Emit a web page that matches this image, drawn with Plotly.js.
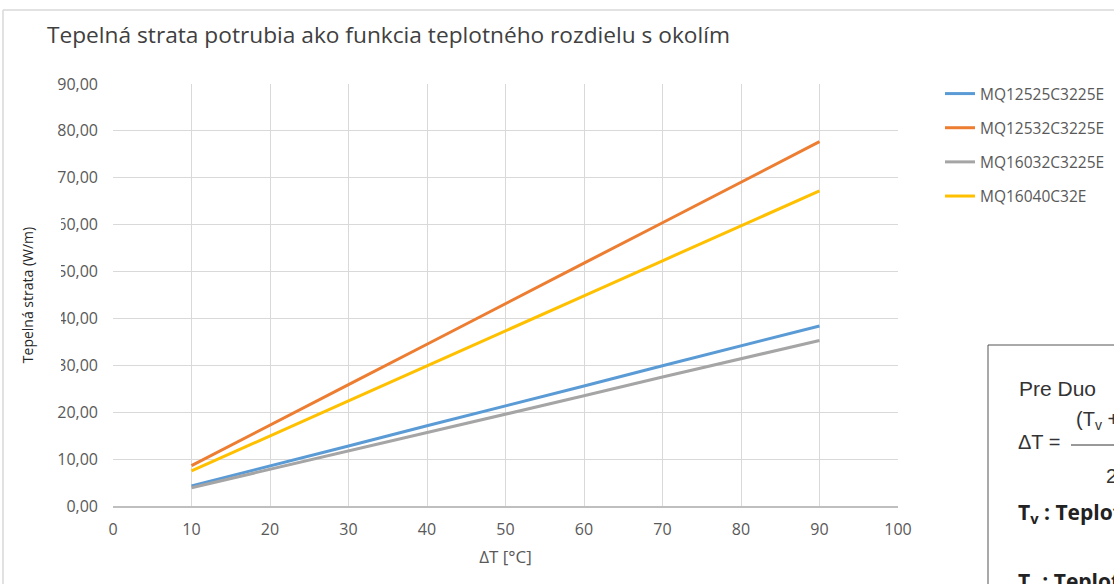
<!DOCTYPE html>
<html>
<head>
<meta charset="utf-8">
<script src="https://cdn.plot.ly/plotly-3.0.1.min.js"></script>
<style>html,body{margin:0;padding:0;background:#fff;}#chart{width:1114px;height:584px;}</style>
</head>
<body>
<div id="chart"></div>
<script>
// ---- data ----
const deltaT = [10, 20, 30, 40, 50, 60, 70, 80, 90];
const seriesNames = ["MQ12525C3225E", "MQ12532C3225E", "MQ16032C3225E", "MQ16040C32E"];
const mq12525 = [4.3, 8.5, 12.8, 17.1, 21.3, 25.6, 29.9, 34.1, 38.4];
const mq12532 = [8.6, 17.3, 25.9, 34.5, 43.2, 51.8, 60.4, 69.0, 77.7];
const mq16032 = [3.9, 7.8, 11.8, 15.7, 19.6, 23.5, 27.5, 31.4, 35.3];
const mq16040 = [7.5, 14.9, 22.4, 29.9, 37.3, 44.8, 52.3, 59.7, 67.2];
const seriesColors = ["#5B9BD5", "#ED7D31", "#A5A5A5", "#FFC000"];
const xTicks = [0, 10, 20, 30, 40, 50, 60, 70, 80, 90, 100];
const yTicks = [0, 10, 20, 30, 40, 50, 60, 70, 80, 90];

// ---- layout geometry (pixels) ----
const W = 1114, H = 584;
const L = 113, R = 898, T = 84, B = 506;
const PX = px => (px - L) / (R - L);
const PY = py => (B - py) / (B - T);

const FONT = "Open Sans, Noto Sans, DejaVu Sans, sans-serif";
const SANS = "Liberation Sans, Arial, sans-serif";
const TXT = "#595959";

const values = [mq12525, mq12532, mq16032, mq16040];
const traces = values.map((v, i) => ({
  type: "scatter",
  mode: "lines",
  x: deltaT,
  y: v,
  name: seriesNames[i],
  legendgroup: "g" + i,
  line: {color: seriesColors[i], width: 3}
}));

const layout = {
  width: W, height: H,
  margin: {l: L, r: W - R, t: T, b: H - B, pad: 0, autoexpand: false},
  paper_bgcolor: "#ffffff",
  plot_bgcolor: "#ffffff",
  separators: ", ",
  font: {family: FONT, size: 16, color: TXT},
  title: {
    text: "Tepelná strata potrubia ako funkcia teplotného rozdielu s okolím",
    font: {family: FONT, size: 22.7, color: "#404040"},
    x: 47 / W, xref: "container", xanchor: "left",
    y: 1 - 35 / H, yref: "container", yanchor: "middle"
  },
  xaxis: {
    range: [0, 100],
    tickvals: xTicks,
    ticks: "",
    showgrid: true, gridcolor: "#d9d9d9", gridwidth: 1,
    zeroline: false,
    showline: true, linecolor: "#bfbfbf", linewidth: 1.5,
    tickfont: {family: FONT, size: 16, color: TXT},
    ticklabelstandoff: 8,
    title: {text: "ΔT [°C]", font: {family: FONT, size: 17, color: TXT}, standoff: 12},
    fixedrange: true
  },
  yaxis: {
    range: [0, 90],
    tickvals: yTicks,
    tickformat: ".2f",
    ticks: "",
    showgrid: true, gridcolor: "#d9d9d9", gridwidth: 1,
    zeroline: false,
    showline: false,
    tickfont: {family: FONT, size: 16, color: TXT},
    ticklabelstandoff: 14,
    title: {text: "Tepelná strata (W/m)", font: {family: FONT, size: 14, color: "#262626"}, standoff: 20},
    fixedrange: true
  },
  showlegend: true,
  legend: {
    x: PX(940), xanchor: "left",
    y: PY(77), yanchor: "top",
    font: {family: FONT, size: 15.5, color: TXT},
    traceorder: "grouped",
    tracegroupgap: 11,
    bgcolor: "rgba(0,0,0,0)"
  },
  shapes: [
    // outer chart frame
    {type: "line", xref: "paper", yref: "paper", x0: PX(3), x1: PX(3), y0: PY(10), y1: PY(600), line: {color: "#d9d9d9", width: 1.5}},
    {type: "line", xref: "paper", yref: "paper", x0: PX(3), x1: PX(1120), y0: PY(10), y1: PY(10), line: {color: "#d9d9d9", width: 1.5}},
    // white patch where the axis-title box overlaps tick labels
    {type: "rect", xref: "paper", yref: "paper", x0: PX(16), x1: PX(61), y0: PY(203), y1: PY(377), line: {width: 0}, fillcolor: "#ffffff", layer: "above"},
    // side info box
    {type: "line", xref: "paper", yref: "paper", x0: PX(988), x1: PX(988), y0: PY(345), y1: PY(600), line: {color: "#555555", width: 1}},
    {type: "line", xref: "paper", yref: "paper", x0: PX(988), x1: PX(1120), y0: PY(345), y1: PY(345), line: {color: "#555555", width: 1}},
    // fraction bar
    {type: "line", xref: "paper", yref: "paper", x0: PX(1071), x1: PX(1120), y0: PY(445), y1: PY(445), line: {color: "#333333", width: 1}}
  ],
  annotations: [
    {xref: "paper", yref: "paper", x: PX(1017), y: PY(388), xanchor: "left", yanchor: "middle", showarrow: false,
     text: "Pre Duo", font: {family: SANS, size: 21, color: "#333333"}},
    {xref: "paper", yref: "paper", x: PX(1016), y: PY(442), xanchor: "left", yanchor: "middle", showarrow: false,
     text: "ΔT =", font: {family: SANS, size: 20, color: "#333333"}},
    {xref: "paper", yref: "paper", x: PX(1074), y: PY(420), xanchor: "left", yanchor: "middle", showarrow: false,
     text: "(T<sub>v</sub> + T<sub>r</sub>)", font: {family: SANS, size: 20, color: "#333333"}},
    {xref: "paper", yref: "paper", x: PX(1104), y: PY(476), xanchor: "left", yanchor: "middle", showarrow: false,
     text: "2", font: {family: SANS, size: 20, color: "#333333"}},
    {xref: "paper", yref: "paper", x: PX(1016), y: PY(513), xanchor: "left", yanchor: "middle", showarrow: false,
     text: "<b>T<sub>v</sub> : Teplota vody na vstupe</b>", font: {family: FONT, size: 21, color: "#222222"}},
    {xref: "paper", yref: "paper", x: PX(1016), y: PY(582), xanchor: "left", yanchor: "middle", showarrow: false,
     text: "<b>T<sub>r</sub> : Teplota vody na spiatočke</b>", font: {family: FONT, size: 21, color: "#222222"}}
  ]
};

Plotly.newPlot("chart", traces, layout, {displayModeBar: false, staticPlot: true});
</script>
</body>
</html>
